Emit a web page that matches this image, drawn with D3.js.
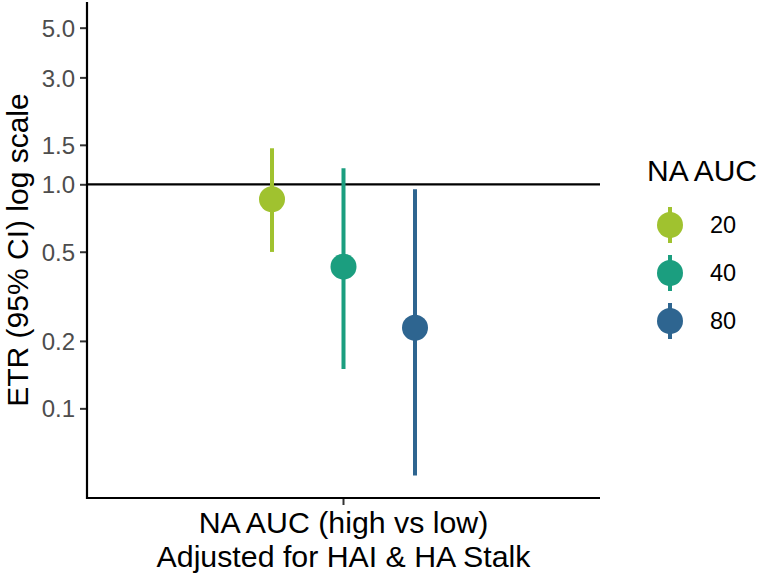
<!DOCTYPE html>
<html><head><meta charset="utf-8">
<script src="https://cdn.jsdelivr.net/npm/d3@7"></script>
<style>body{margin:0;background:#fff}svg{display:block;font-family:"Liberation Sans",Arial,sans-serif}</style>
</head><body>
<svg id="c" width="764" height="578"></svg>
<script>
const category = ["NA AUC (high vs low)"];
const groups = ["20", "40", "80"];
const estimates = [0.857, 0.429, 0.229];
const lower = [0.499, 0.150, 0.0502];
const upper = [1.448, 1.179, 0.950];
const colors = ["#A0C22F", "#1B9E7F", "#2E6590"];
const yTicks = [0.1, 0.2, 0.5, 1.0, 1.5, 3.0, 5.0];
const yTickLabels = ["0.1", "0.2", "0.5", "1.0", "1.5", "3.0", "5.0"];
const yDomain = [0.0398, 6.51];
const refValue = 1;

const svg = d3.select("#c");
const L = 87, R = 600, T = 2, B = 498;
const y = d3.scaleLog().domain(yDomain).range([B, T]);
const x = d3.scaleBand().domain(category).range([L, R]);
const dodge = d3.scalePoint().domain(groups).range([-71.5, 71.5]);
const color = d3.scaleOrdinal().domain(groups).range(colors);

// reference line
svg.append("line").attr("x1", L).attr("x2", R)
  .attr("y1", y(refValue)).attr("y2", y(refValue))
  .attr("stroke", "#000").attr("stroke-width", 2.2);

const data = groups.map((g, i) => ({g, est: estimates[i], lo: lower[i], hi: upper[i]}));
const cx = d => x(category[0]) + x.bandwidth() / 2 + dodge(d.g);

svg.selectAll("line.err").data(data).join("line").attr("class", "err")
  .attr("x1", cx).attr("x2", cx)
  .attr("y1", d => y(d.lo)).attr("y2", d => y(d.hi))
  .attr("stroke", d => color(d.g)).attr("stroke-width", 4);
svg.selectAll("circle.pt").data(data).join("circle").attr("class", "pt")
  .attr("cx", cx).attr("cy", d => y(d.est)).attr("r", 13)
  .attr("fill", d => color(d.g));

// axes
const yAxis = d3.axisLeft(y).tickValues(yTicks).tickFormat((d, i) => yTickLabels[i]).tickSize(7).tickPadding(5);
const gy = svg.append("g").attr("transform", `translate(${L},0)`).call(yAxis);
gy.select(".domain").remove();
gy.selectAll(".tick line").attr("stroke", "#333").attr("stroke-width", 2);
gy.selectAll(".tick text").attr("fill", "#4D4D4D").style("font-size", "24px").attr("dy", "0.36em");

const xAxis = d3.axisBottom(x).tickSize(7).tickFormat(() => "");
const gx = svg.append("g").attr("transform", `translate(0,${B})`).call(xAxis);
gx.select(".domain").remove();
gx.selectAll(".tick line").attr("stroke", "#333").attr("stroke-width", 2);

svg.append("line").attr("x1", L).attr("x2", L).attr("y1", T).attr("y2", B + 1)
  .attr("stroke", "#000").attr("stroke-width", 2.2);
svg.append("line").attr("x1", L - 1).attr("x2", R).attr("y1", B).attr("y2", B)
  .attr("stroke", "#000").attr("stroke-width", 2.2);

// axis titles
const xc = x(category[0]) + x.bandwidth() / 2;
svg.append("text").attr("x", xc).attr("y", 533).attr("text-anchor", "middle")
  .style("font-size", "30.3px").attr("fill", "#000").text(category[0]);
svg.append("text").attr("x", xc).attr("y", 567).attr("text-anchor", "middle")
  .style("font-size", "30.3px").attr("fill", "#000").text("Adjusted for HAI & HA Stalk");

svg.append("text").attr("transform", `translate(27.5,${(T + B) / 2}) rotate(-90)`)
  .attr("text-anchor", "middle").style("font-size", "30px").attr("fill", "#000")
  .text("ETR (95% CI) log scale");

// legend
svg.append("text").attr("x", 647).attr("y", 181).style("font-size", "30px").attr("fill", "#000").text("NA AUC");
const lg = svg.selectAll("g.lg").data(data).join("g").attr("class", "lg")
  .attr("transform", (d, i) => `translate(670,${225 + i * 48})`);
lg.append("line").attr("y1", -18).attr("y2", 18).attr("stroke", d => color(d.g)).attr("stroke-width", 4);
lg.append("circle").attr("r", 13).attr("fill", d => color(d.g));
lg.append("text").attr("x", 40).attr("dy", "0.36em").style("font-size", "23.5px").attr("fill", "#000").text(d => d.g);
</script>
</body></html>
